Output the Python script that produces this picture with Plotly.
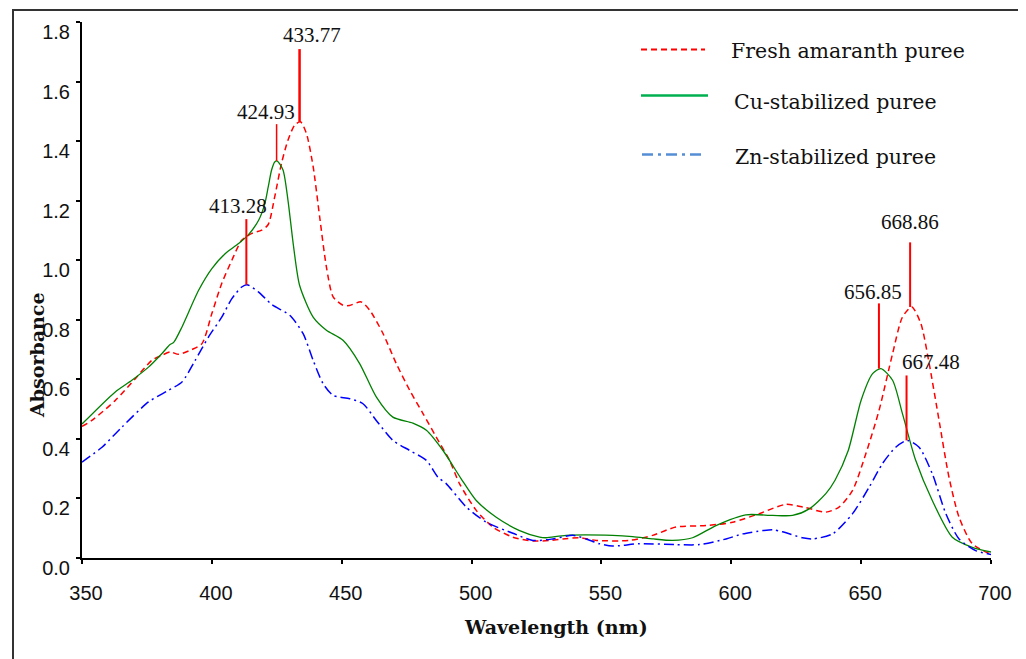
import plotly.graph_objects as go

# ---------------- data ----------------
fresh_wl = [350, 353.8, 362.8, 370.5, 376.9, 380.8, 384, 387.2, 392.3, 396.2, 400, 403.8, 407.7,
            411.5, 415.4, 419.2, 421.7, 424.2, 426.8, 429.3, 431.9, 434.1, 436.4, 439, 441.5,
            444.1, 446.7, 450.5, 453, 457.5, 460.8, 465.9, 471, 476.2, 481.3, 486.4, 491.5,
            495.4, 501.8, 508.2, 515.9, 523.6, 530, 535.1, 541.5, 548, 560.8, 569.7, 578.7,
            590.3, 600.5, 610.8, 621, 628.7, 636.4, 641.5, 646.7, 651.8, 656.9, 662.1, 665.9,
            669.5, 673, 676.2, 680, 683.8, 687.7, 692.8, 700]
fresh_abs = [0.442, 0.462, 0.529, 0.602, 0.664, 0.681, 0.692, 0.684, 0.700, 0.720, 0.821, 0.922,
             1.000, 1.067, 1.090, 1.101, 1.120, 1.213, 1.325, 1.403, 1.454, 1.465, 1.426, 1.314,
             1.146, 0.978, 0.877, 0.849, 0.848, 0.860, 0.832, 0.754, 0.653, 0.563, 0.485, 0.406,
             0.328, 0.249, 0.160, 0.104, 0.070, 0.057, 0.059, 0.064, 0.068, 0.059, 0.059, 0.076,
             0.104, 0.109, 0.120, 0.149, 0.180, 0.169, 0.154, 0.171, 0.227, 0.350, 0.496, 0.686,
             0.809, 0.843, 0.787, 0.653, 0.462, 0.272, 0.137, 0.048, 0.012]

cu_wl = [350, 362.7, 369.2, 375.6, 380.8, 383.8, 385.3, 388.5, 394.9, 400, 405.1, 410.3, 414.1,
         418, 420.4, 421.7, 423, 424.2, 425.2, 427.4, 429.3, 431.4, 433.8, 439, 444.1, 450.5,
         456.9, 463.3, 469.7, 477.4, 482.6, 489, 496, 501.8, 509.5, 518.5, 526.2, 528.7, 536.4,
         554.3, 562, 570, 577.4, 585.1, 594.1, 605.6, 615.9, 623.6, 630, 636.4, 640, 645,
         650, 654.4, 657.6, 662.1, 665.9, 671, 677.4, 685.1, 692.8, 700]
cu_abs = [0.450, 0.557, 0.597, 0.641, 0.687, 0.716, 0.724, 0.776, 0.899, 0.972, 1.022, 1.056,
          1.086, 1.134, 1.190, 1.246, 1.303, 1.330, 1.333, 1.303, 1.202, 1.050, 0.915, 0.809,
          0.765, 0.731, 0.653, 0.541, 0.473, 0.453, 0.429, 0.361, 0.266, 0.193, 0.137, 0.092,
          0.070, 0.068, 0.076, 0.076, 0.072, 0.064, 0.059, 0.068, 0.109, 0.145, 0.143, 0.143,
          0.165, 0.216, 0.262, 0.360, 0.530, 0.619, 0.636, 0.597, 0.485, 0.328, 0.193, 0.070,
          0.036, 0.020]

zn_wl = [350, 357.7, 365.4, 375.6, 383.3, 388.5, 393.6, 398.7, 403.8, 407.7, 411.5, 413.5, 418,
         423.1, 430, 435.1, 439, 442.8, 446.7, 453.1, 458.2, 463.3, 469.7, 476.2, 482.6, 487,
         490.3, 498, 505.7, 515.9, 523.6, 531.3, 539, 544.1, 549.2, 554.3, 564.6, 578.7, 587.7,
         598, 604.4, 612.1, 615.9, 619.7, 627.4, 631.3, 639, 646.7, 653.1, 658.2, 663.3, 667.8,
         672.3, 677.4, 682.6, 687.7, 694.1, 700]
zn_abs = [0.322, 0.372, 0.440, 0.524, 0.563, 0.591, 0.664, 0.742, 0.809, 0.871, 0.910, 0.918,
          0.893, 0.851, 0.815, 0.754, 0.664, 0.586, 0.546, 0.535, 0.518, 0.462, 0.395, 0.361,
          0.328, 0.272, 0.249, 0.171, 0.120, 0.083, 0.059, 0.064, 0.076, 0.064, 0.048, 0.040,
          0.048, 0.045, 0.045, 0.064, 0.081, 0.092, 0.095, 0.088, 0.068, 0.064, 0.081, 0.149,
          0.238, 0.317, 0.372, 0.395, 0.372, 0.283, 0.149, 0.064, 0.025, 0.012]

peak_labels = ["433.77", "424.93", "413.28", "668.86", "656.85", "667.48"]
peak_wl = [433.77, 424.93, 413.28, 668.86, 656.85, 667.48]
peak_abs = [1.465, 1.333, 0.918, 0.843, 0.636, 0.395]
peak_top = [1.709, 1.457, 1.138, 1.060, 0.855, 0.613]

series_names = ["Fresh amaranth puree", "Cu-stabilized puree", "Zn-stabilized puree"]

x_ticks = [350, 400, 450, 500, 550, 600, 650, 700]
y_ticks = [0.0, 0.2, 0.4, 0.6, 0.8, 1.0, 1.2, 1.4, 1.6, 1.8]

# ---------------- layout geometry ----------------
# the page body adds an 8px margin, so the figure is made 8px smaller and the
# positions below are given in page pixels
OFF = 8
W, H = 1026 - OFF, 659 - OFF
ML, MR, MT, MB = 82 - OFF, 35, 22 - OFF, 101
PW, PH = W - ML - MR, H - MT - MB


def px(x):
    return (x - OFF - ML) / PW


def py(y):
    return (H - MB - (y - OFF)) / PH


SERIF = "DejaVu Serif"
SANS = "Liberation Sans, Arial, sans-serif"

fig = go.Figure()

line_styles = [
    dict(color="#ff0000", width=1.5, dash="6px,4px"),
    dict(color="#008000", width=1.3),
    dict(color="#0000ff", width=1.5, dash="10px,4px,2px,4px"),
]
for name, xs, ys, ls in zip(series_names, [fresh_wl, cu_wl, zn_wl],
                            [fresh_abs, cu_abs, zn_abs], line_styles):
    fig.add_trace(go.Scatter(x=xs, y=ys, mode="lines", name=name, showlegend=False,
                             line=dict(shape="spline", smoothing=0.7, **ls)))

# peak marker lines
peak_widths = [2.5, 1.5, 2, 2, 2, 2]
for wl, a, top, w in zip(peak_wl, peak_abs, peak_top, peak_widths):
    fig.add_trace(go.Scatter(x=[wl, wl], y=[a, top], mode="lines", showlegend=False,
                             line=dict(color="#ff0000", width=w), hoverinfo="skip"))

# peak labels (offsets in pixels from line top)
label_shift = [(12, 14), (-11, 12), (-8, 13), (0, 20), (-6, 11), (24, 13)]
annotations = []
for lab, wl, top, (dx, dy) in zip(peak_labels, peak_wl, peak_top, label_shift):
    annotations.append(dict(x=wl, y=top, xref="x", yref="y", text=lab, showarrow=False,
                            xanchor="center", yanchor="middle", xshift=dx, yshift=dy,
                            font=dict(family="Liberation Serif", size=21, color="#111")))

# axis titles
annotations.append(dict(x=px(556), y=py(627), xref="paper", yref="paper",
                        text="<b>Wavelength (nm)</b>", showarrow=False,
                        xanchor="center", yanchor="middle",
                        font=dict(family=SERIF, size=19, color="#111")))
annotations.append(dict(x=px(37), y=py(356), xref="paper", yref="paper",
                        text="<b>Absorbance</b>", showarrow=False, textangle=-90,
                        xanchor="center", yanchor="middle",
                        font=dict(family=SERIF, size=19, color="#111")))

# manual legend
leg_lines = [
    (641, 705, 49.5, dict(color="#ff0000", width=2, dash="6px,4px")),
    (641, 708, 95.5, dict(color="#00b050", width=2.5)),
    (642, 703, 154.5, dict(color="#558ed5", width=2.5, dash="11px,5px,3px,5px")),
]
leg_text = [(729, 51), (731.5, 102), (733, 157)]
shapes = []
for (x0, x1, yy, ln), name, (tx, ty) in zip(leg_lines, series_names, leg_text):
    shapes.append(dict(type="line", xref="paper", yref="paper", x0=px(x0), x1=px(x1),
                       y0=py(yy), y1=py(yy), line=ln))
    annotations.append(dict(x=px(tx), y=py(ty), xref="paper", yref="paper", text=name,
                            showarrow=False, xanchor="left", yanchor="middle",
                            font=dict(family=SERIF, size=20.5, color="#111")))

# outer frame
shapes.append(dict(type="rect", xref="paper", yref="paper", x0=px(13), x1=px(1022),
                   y0=py(700), y1=py(10), line=dict(color="#333", width=2),
                   fillcolor="rgba(0,0,0,0)", layer="below"))

fig.update_layout(
    width=W, height=H,
    margin=dict(l=ML, r=MR, t=MT, b=MB, autoexpand=False),
    paper_bgcolor="white", plot_bgcolor="white",
    shapes=shapes, annotations=annotations,
    showlegend=False,
    xaxis=dict(range=[350, 700], tickvals=x_ticks, ticktext=[str(v) for v in x_ticks],
               showgrid=False, zeroline=False, showline=True, linecolor="black", linewidth=2,
               ticks="outside", ticklen=4, tickwidth=2, tickcolor="black", automargin=False,
               tickfont=dict(family=SANS, size=20, color="#111"),
               ticklabelstandoff=12, ticklabelshift=4),
    yaxis=dict(range=[0, 1.8], tickvals=y_ticks, ticktext=[f"{v:.1f}" for v in y_ticks],
               showgrid=False, zeroline=False, showline=True, linecolor="black", linewidth=2,
               ticks="outside", ticklen=4, tickwidth=2, tickcolor="black", automargin=False,
               tickfont=dict(family=SANS, size=20, color="#111"),
               ticklabelstandoff=2, ticklabelshift=10),
)

fig.write_html("out.html")
